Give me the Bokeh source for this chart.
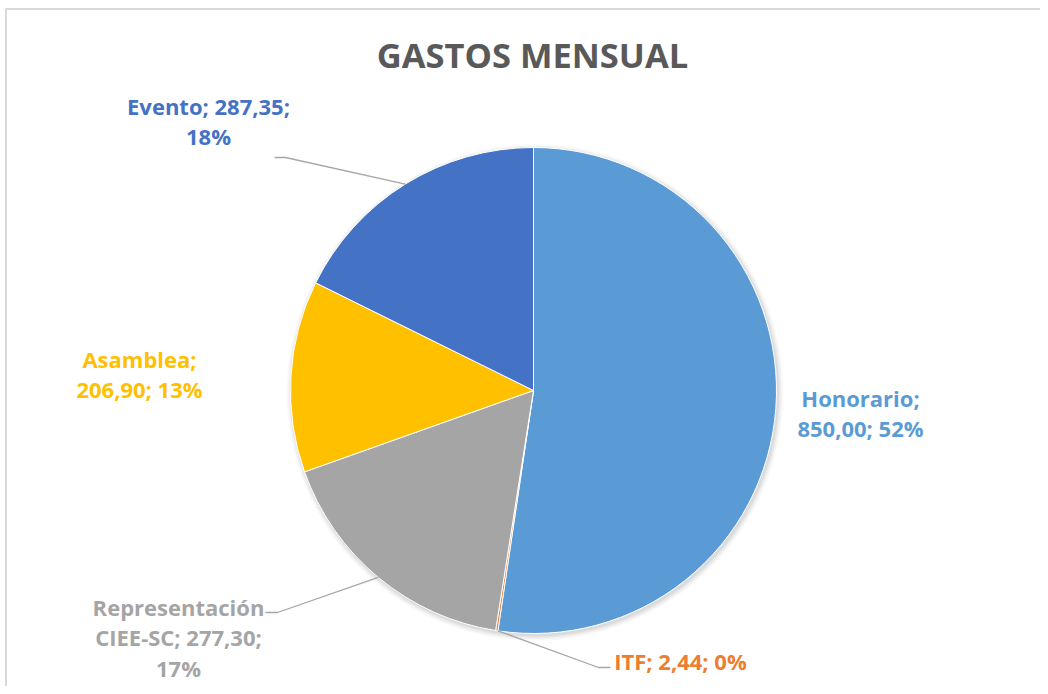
import math
from bokeh.plotting import figure
from bokeh.models import Range1d, ColumnDataSource
from bokeh.core.properties import value
from bokeh.embed import file_html
from bokeh.resources import INLINE

# ---- data ----
categories = ["Honorario", "ITF", "Representación CIEE-SC", "Asamblea", "Evento"]
amounts = [850.00, 2.44, 277.30, 206.90, 287.35]
colors = ["#5B9BD5", "#ED7D31", "#A5A5A5", "#FFC000", "#4472C4"]
title_text = "GASTOS MENSUAL"

W, H = 1040, 686
p = figure(width=W, height=H, output_backend="svg", toolbar_location=None,
           x_range=Range1d(0, W), y_range=Range1d(0, H), min_border=0)
p.axis.visible = False
p.grid.visible = False
p.outline_line_color = None
p.background_fill_color = "white"
p.border_fill_color = "white"

def sx(x):  # picture x -> data
    return x

def sy(y):  # picture y -> data
    return H - y

# chart border (top and left visible)
p.line([sx(5.5), sx(5.5), W], [0, sy(8.5), sy(8.5)], line_color="#D9D9D9", line_width=2)

cx, cy, r = sx(533), sy(390), 243

total = sum(amounts)
fracs = [a / total for a in amounts]
cum = [0.0]
for f in fracs:
    cum.append(cum[-1] + f)
starts = [math.pi / 2 - 2 * math.pi * c for c in cum[:-1]]
ends = [math.pi / 2 - 2 * math.pi * c for c in cum[1:]]

# soft shadow
for i, a in enumerate([0.05, 0.04, 0.03, 0.02]):
    p.circle(x=[cx + 1.5], y=[cy - 2], radius=r + 1 + i * 1.5, fill_color="black",
             fill_alpha=a, line_color=None)

src = ColumnDataSource(dict(start=starts, end=ends, color=colors, cat=categories))
p.wedge(x=cx, y=cy, radius=r, start_angle="start", end_angle="end", direction="clock",
        fill_color="color", line_color="white", line_width=1, source=src)

# title
p.text(x=[sx(532)], y=[sy(54)], text=[title_text], text_align="center",
       text_baseline="middle", text_font=value("Open Sans"), text_font_style="bold",
       text_font_size="34.5px", text_color="#595959")

def fmt(v):
    return f"{v:.2f}".replace(".", ",")

pct = [f"{round(f * 100)}%" for f in fracs]
lines = [
    [f"{categories[0]};", f"{fmt(amounts[0])}; {pct[0]}"],
    [f"{categories[1]}; {fmt(amounts[1])}; {pct[1]}"],
    ["Representación", f"CIEE-SC; {fmt(amounts[2])};", pct[2]],
    [f"{categories[3]};", f"{fmt(amounts[3])}; {pct[3]}"],
    [f"{categories[4]}; {fmt(amounts[4])};", pct[4]],
]
# label anchor (picture coords of first line center) and line spacing
anchors = [(860, 397), (680, 660), (178, 606), (139, 358), (208, 105)]
spacing = 30.5

for lab, (ax, ay), col in zip(lines, anchors, colors):
    xs = [sx(ax)] * len(lab)
    ys = [sy(ay + i * spacing) for i in range(len(lab))]
    p.text(x=xs, y=ys, text=lab, text_align="center", text_baseline="middle",
           text_font=value("Open Sans"), text_font_style="bold",
           text_font_size="22px", text_color=col)

# leader lines for ITF, Representación, Evento
def edge_pt(i):
    mid = (cum[i] + cum[i + 1]) / 2 * 2 * math.pi
    return cx + r * math.sin(mid), cy + r * math.cos(mid)

leaders = {
    1: [(610, 667), (598, 667)],
    2: [(265, 612), (277, 612)],
    4: [(274, 157), (285, 157)],
}
for i, pts in leaders.items():
    ex, ey = edge_pt(i)
    if i == 1:
        ex, ey = cx + r * math.sin(cum[1] * 2 * math.pi), cy + r * math.cos(cum[1] * 2 * math.pi)
    xs = [sx(pts[0][0]), sx(pts[1][0]), ex]
    ys = [sy(pts[0][1]), sy(pts[1][1]), ey]
    p.line(xs, ys, line_color="#A6A6A6", line_width=1.3)

open("out.html", "w").write(file_html(p, INLINE))
